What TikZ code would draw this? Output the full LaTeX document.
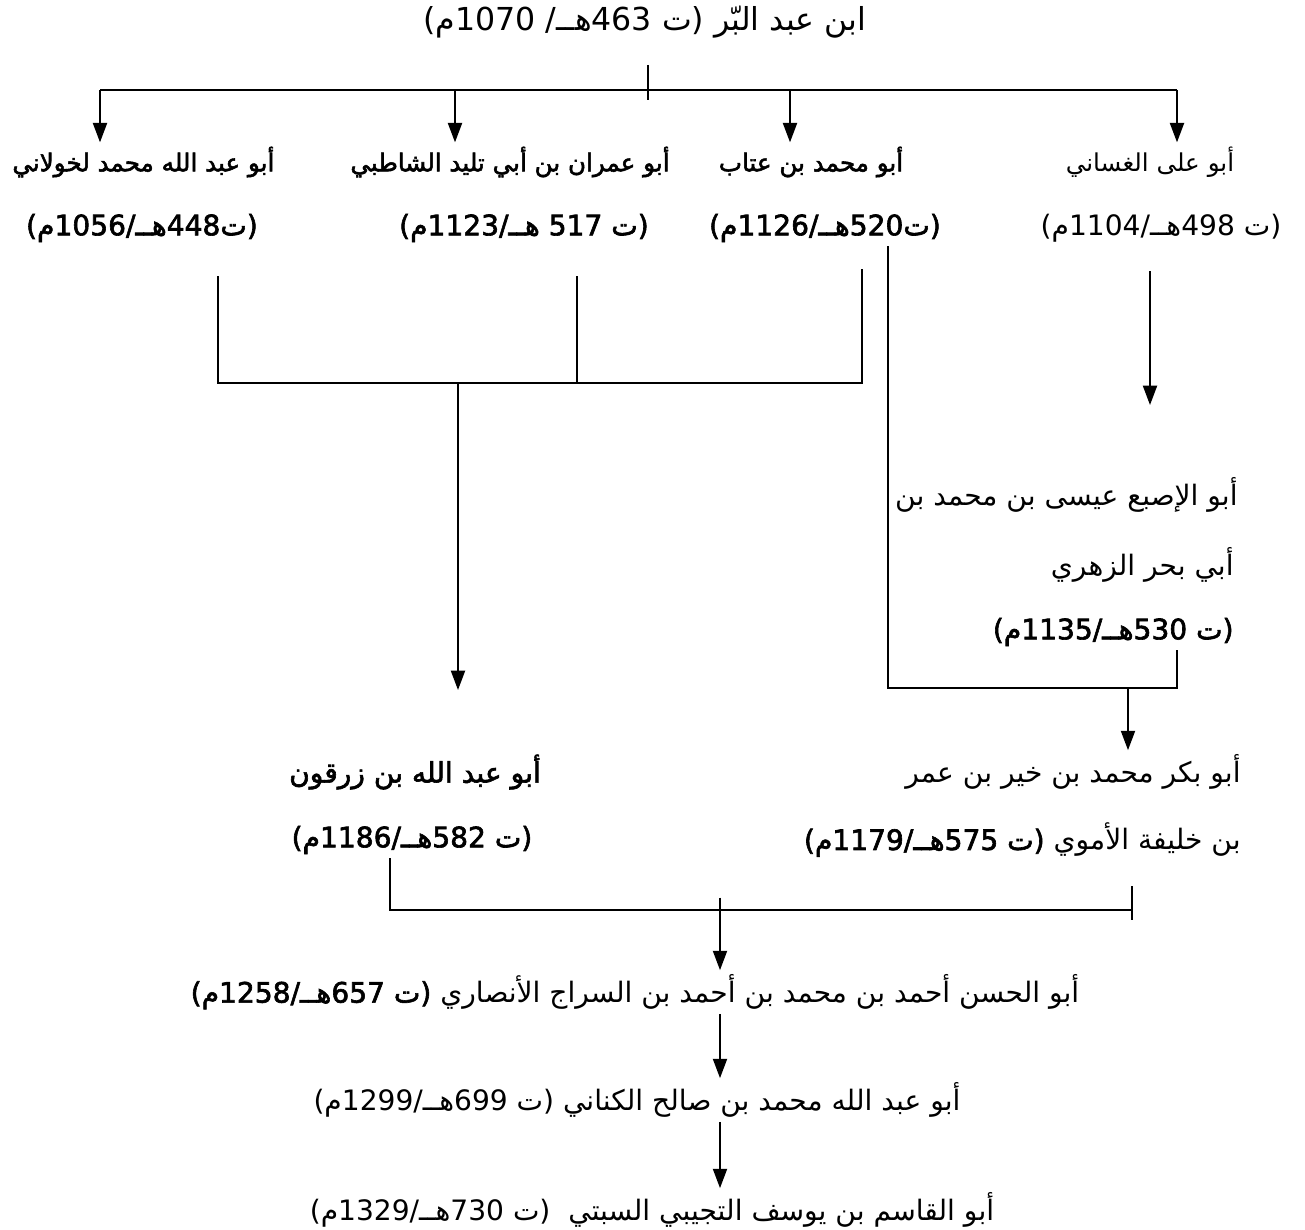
\documentclass[tikz,border=0pt]{standalone}
\usepackage{fontspec}
\usepackage{tikz}
\usetikzlibrary{positioning, arrows, arrows.meta}
\TeXXeTstate=1
\newfontfamily\arabicfont[Script=Arabic, BoldFont={DejaVu Sans}, BoldFeatures={FakeBold=2.2}]{DejaVu Sans}
\newcommand{\artxt}[1]{\arabicfont\beginR #1\endR}
\tikzset{
  scholar/.style={inner sep=2pt, font=\fontsize{16}{19}\selectfont},
  heavy/.style={inner sep=2pt, font=\fontsize{16}{19}\selectfont\bfseries},
  pupil/.style={inner sep=2pt, font=\fontsize{14}{17}\selectfont},
  pupilheavy/.style={inner sep=2pt, font=\fontsize{14}{17}\selectfont\bfseries},
}

\begin{document}
\begin{tikzpicture}[x=0.02cm, y=-0.02cm, >={Triangle[width=8pt,length=11pt]}, line width=1pt]
\useasboundingbox (0,0) rectangle (1305,1230);
			% Nodes
			\node (Barr) [scholar, font=\fontsize{18}{21}\selectfont] at (645,22) {\artxt{ابن عبد البّر (ت 463هــ/ 1070م)}};
			\node (Khawlani) [pupilheavy, anchor=west] at (8,162) {\artxt{أبو عبد الله محمد لخولاني}};
			\node (KhawlaniD) [heavy] at (142,228) {\artxt{(ت448هــ/1056م)}};
			\node (Shatibi) [pupilheavy] at (510,162) {\artxt{أبو عمران بن أبي تليد الشاطبي}};
			\node (ShatibiD) [heavy] at (524,228) {\artxt{(ت 517 هــ/1123م)}};
			\node (Attab) [pupilheavy] at (811,162) {\artxt{أبو محمد بن عتاب}};
			\node (AttabD) [heavy] at (825,228) {\artxt{(ت520هــ/1126م)}};
			\node (Ghassani) [pupil] at (1150,162) {\artxt{أبو على الغساني}};
			\node (GhassaniD) [scholar] at (1161,228) {\artxt{(ت 498هــ/1104م)}};
			\node (Zuhri1) [scholar, anchor=east] at (1242,495) {\artxt{أبو الإصبع عيسى بن محمد بن}};
			\node (Zuhri2) [scholar, anchor=east] at (1238,565) {\artxt{أبي بحر الزهري}};
			\node (Zuhri3) [heavy, anchor=east] at (1238,632) {\artxt{(ت 530هــ/1135م)}};
			\node (Zarqun) [heavy] at (415,772) {\artxt{أبو عبد الله بن زرقون}};
			\node (ZarqunD) [heavy] at (412,840) {\artxt{(ت 582هــ/1186م)}};
			\node (Khayr1) [scholar, anchor=east] at (1245,772) {\artxt{أبو بكر محمد بن خير بن عمر}};
			\node (Khayr2) [scholar, anchor=east] at (1245,840) {\artxt{بن خليفة الأموي {\bfseries (ت 575هــ/1179م)}}};
			\node (Sarraj) [scholar] at (635,992) {\artxt{أبو الحسن أحمد بن محمد بن أحمد بن السراج الأنصاري {\bfseries (ت 657هــ/1258م)}}};
			\node (Kinani) [scholar] at (637,1100) {\artxt{أبو عبد الله محمد بن صالح الكناني (ت 699هــ/1299م)}};
			\node (Sabti) [scholar] at (652,1210) {\artxt{أبو القاسم بن يوسف التجيبي السبتي \ (ت 730هــ/1329م)}};

			% Junctions
			\coordinate (hub) at (648,90);
			\coordinate (b1) at (100,90);
			\coordinate (b2) at (455,90);
			\coordinate (b3) at (790,90);
			\coordinate (b4) at (1177,90);
			\coordinate (m1) at (218,383);
			\coordinate (m2) at (577,383);
			\coordinate (m3) at (862,383);
			\coordinate (mid) at (458,383);
			\coordinate (zq) at (458,690);
			\coordinate (g) at (1150,405);
			\coordinate (a1) at (888,688);
			\coordinate (a2) at (1177,688);
			\coordinate (k) at (1128,688);
			\coordinate (z1) at (390,910);
			\coordinate (z2) at (1132,910);
			\coordinate (hub2) at (720,910);

			% Arrows
			\draw[shorten <=0.45cm] (hub |- Barr.south) -- ([yshift=-0.2cm]hub);
			\draw (b1) -- (b4);
			\foreach \b/\n in {b1/Khawlani, b2/Shatibi, b3/Attab, b4/Ghassani}
				\draw[->] (\b) -- (\b |- \n.north);
			\draw[shorten <=0.6cm, shorten >=0.45cm] (m1 |- KhawlaniD.south) -- (m1) -- (m3) -- (m3 |- AttabD.south);
			\draw[shorten <=0.6cm] (m2 |- ShatibiD.south) -- (m2);
			\draw[->] (mid) -- (zq);
			\draw[->, shorten <=0.5cm] (g |- GhassaniD.south) -- (g);
			\draw (a1 |- AttabD.south) -- (a1) -- (a2) -- (a2 |- Zuhri3.south);
			\draw[->] (k) -- (k |- Khayr1.north);
			\draw (z1 |- ZarqunD.south) -- (z1) -- (z2);
			\draw[shorten <=0.5cm] (z2 |- Khayr2.south) -- ([yshift=-0.2cm]z2);
			\draw[->] ([yshift=0.25cm]hub2) -- (hub2 |- Sarraj.north);
			\draw[->] (hub2 |- Sarraj.south) -- (hub2 |- Kinani.north);
			\draw[->] (hub2 |- Kinani.south) -- (hub2 |- Sabti.north);
\end{tikzpicture}
\end{document}
